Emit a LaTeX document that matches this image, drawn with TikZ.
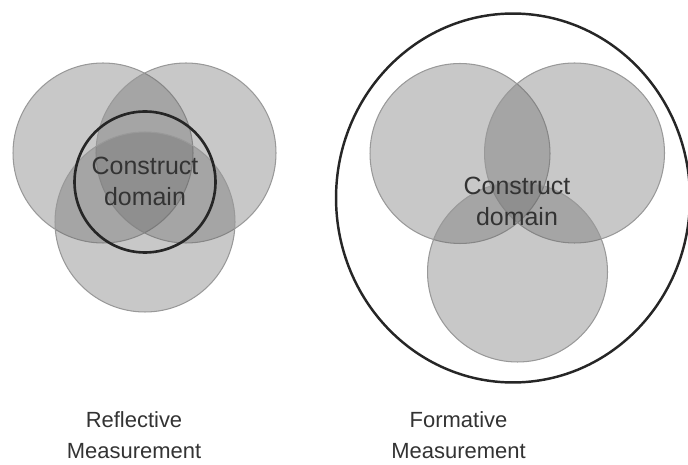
\documentclass[tikz,border=0pt]{standalone}
\usepackage{fontspec}
\setmainfont{Liberation Sans}
\usetikzlibrary{shapes.geometric}
\begin{document}
\begin{tikzpicture}[x=0.02cm, y=-0.02cm,
facet/.style={circle,draw=black!40,line width=0.6pt,fill=black!60,fill opacity=.355,minimum size=3.6cm,inner sep=0pt},
domainring/.style={circle,draw=black!85,line width=1.5pt,minimum size=2.82cm,inner sep=0pt},
domtext/.style={font=\fontsize{14.2}{17.6}\selectfont,text=black!80,align=center},
captext/.style={font=\fontsize{12.5}{17.6}\selectfont,text=black!80,align=center,inner sep=1pt}]
\useasboundingbox (0,0) rectangle (688,465);
% reflective
\begin{scope}
\node[facet] (L1) at (103,153) {};
\node[facet] (L2) at (186,153) {};
\node[facet] (L3) at (145,222) {};
\node[domainring] (Lring) at (145,182) {};
\node[domtext] (Ltext) at (145,181) {Construct\\domain};
\node[captext] (Lcap) at (134,435.5) {Reflective\\Measurement};
\end{scope}
% formative
\begin{scope}
\node[ellipse,draw=black!85,line width=1.4pt,minimum width=7.08cm,minimum height=7.38cm,inner sep=0pt] (Rring) at (513,198) {};
\node[facet] (R1) at (460,153.5) {};
\node[facet] (R2) at (574.5,153) {};
\node[facet] (R3) at (517.5,272) {};
\node[domtext] (Rtext) at (517,201) {Construct\\domain};
\node[captext] (Rcap) at (458.5,435.5) {Formative\\Measurement};
\end{scope}
\end{tikzpicture}
\end{document}
